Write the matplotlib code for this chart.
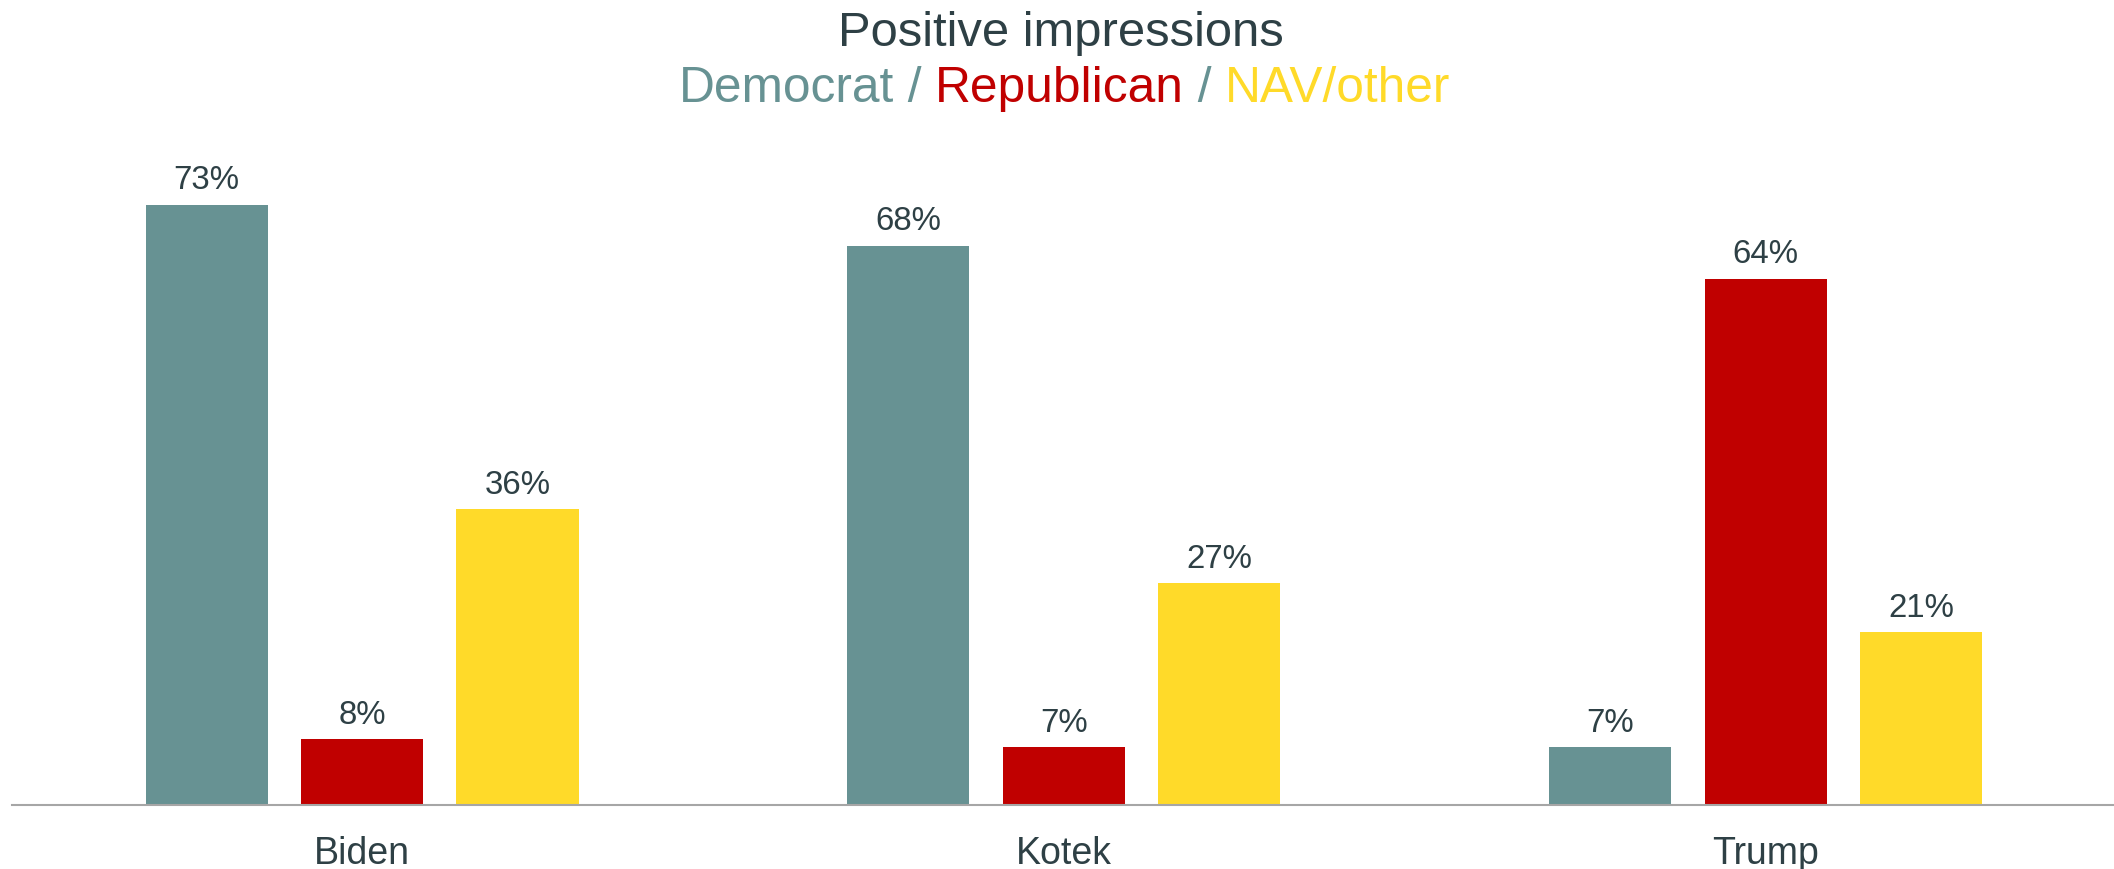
import matplotlib
matplotlib.use("Agg")
import matplotlib.pyplot as plt
import numpy as np

# ─────────────── DATA ───────────────
candidates = ["Biden", "Kotek", "Trump"]
parties    = ["Democrat", "Republican", "NAV/other"]
democrat   = [73, 68, 7]
republican = [8, 7, 64]
nav_other  = [36, 27, 21]

# ─────────────── STYLE ───────────────
COLOURS  = ["#679293", "#C00000", "#FFDA29"]
TEXT_COL = "#2E4045"
AXIS_COL = "#A6A6A6"

plt.rcParams["font.family"] = ["Liberation Sans", "DejaVu Sans"]

fig = plt.figure(figsize=(21.14, 8.69), dpi=100)
ax = fig.add_axes([0.0057, 0.0736, 0.9943, 0.7572])

x = np.arange(len(candidates))
step, width = 0.2215, 0.174
series = [democrat, republican, nav_other]

for i, (vals, col) in enumerate(zip(series, COLOURS)):
    xs = x + (i - 1) * step
    bars = ax.bar(xs, vals, width=width, color=col, zorder=2)
    for b, v in zip(bars, vals):
        ax.annotate(f"{v}%", (b.get_x() + b.get_width() / 2, v),
                    xytext=(0, 6), textcoords="offset points",
                    ha="center", va="bottom", fontsize=23.8, color=TEXT_COL)

ax.set_xlim(-0.4987, 2.4964)
ax.set_ylim(0, 80)
ax.set_xticks(x)
ax.set_xticklabels(candidates, fontsize=27, color=TEXT_COL)
ax.tick_params(axis="x", length=0, pad=22)
ax.set_yticks([])
for s in ["top", "right", "left"]:
    ax.spines[s].set_visible(False)
ax.spines["bottom"].set_color(AXIS_COL)
ax.spines["bottom"].set_linewidth(1.5)

# ── Titles ──
fig.text(0.502, 1 - 34 / 869, "Positive impressions", ha="center", va="center",
         fontsize=35.3, color=TEXT_COL)

pieces = [("Democrat", COLOURS[0]), (" / ", COLOURS[0]),
          ("Republican", COLOURS[1]), (" / ", COLOURS[0]),
          ("NAV/other", COLOURS[2])]
fig.canvas.draw()
renderer = fig.canvas.get_renderer()
texts, widths = [], []
for s, c in pieces:
    t = fig.text(0, 1 - 89 / 869, s, ha="left", va="center", fontsize=35.7, color=c)
    texts.append(t)
    widths.append(t.get_window_extent(renderer).width)
fig_w = fig.get_figwidth() * fig.dpi
x0 = 0.5 * fig_w + 0.0035 * fig_w - sum(widths) / 2
for t, w in zip(texts, widths):
    t.set_x(x0 / fig_w)
    x0 += w

fig.savefig("out.png", dpi=100, facecolor="white")
